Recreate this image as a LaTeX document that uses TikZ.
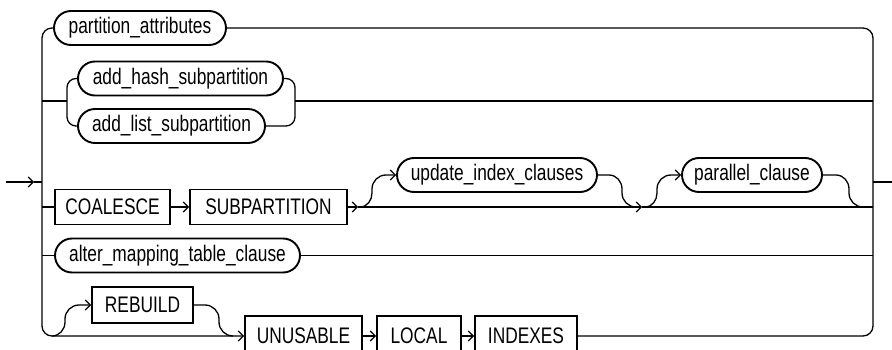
\documentclass[tikz,border=0pt]{standalone}
\usepackage{fontspec}
\setmainfont{Liberation Sans}[FakeStretch=0.77]
\usetikzlibrary{shapes.misc,arrows.meta}
\begin{document}
\begin{tikzpicture}[x=1pt,y=-1pt,
  conn/.style={line width=1.3pt},
  arr/.style={conn,-{Straight Barb[length=5pt,width=10pt,line width=1.2pt]}},
  nt/.style={draw,line width=1.9pt,rounded rectangle,minimum height=34pt,inner sep=0pt,
     font=\fontsize{22.5}{26}\selectfont},
  kw/.style={draw,line width=1.9pt,rectangle,minimum height=35pt,inner sep=0pt,
     font=\fontsize{22.5}{26}\selectfont}]
\useasboundingbox (0,0) rectangle (892,350);
% nodes
\node[nt,minimum width=172pt] (pa) at (140,28) {partition\_attributes};
\node[nt,minimum width=205pt] (hash) at (180.5,78.5) {add\_hash\_subpartition};
\node[nt,minimum width=187pt] (list) at (171.5,126) {add\_list\_subpartition};
\node[kw,minimum width=115pt] (coal) at (112.5,207) {COALESCE};
\node[kw,minimum width=157pt] (subp) at (268.5,207) {SUBPARTITION};
\node[nt,minimum width=200pt] (upd) at (497,175) {update\_index\_clauses};
\node[nt,minimum width=140pt] (par) at (752,175) {parallel\_clause};
\node[nt,minimum width=245pt] (alt) at (177.5,255.5) {alter\_mapping\_table\_clause};
\node[kw,minimum width=101pt,minimum height=36pt] (reb) at (142.5,305) {REBUILD};
\node[kw,minimum width=117pt,minimum height=40pt] (unus) at (303.5,336) {UNUSABLE};
\node[kw,minimum width=84pt,minimum height=40pt] (loc) at (419,336) {LOCAL};
\node[kw,minimum width=102pt,minimum height=40pt] (idx) at (526,336) {INDEXES};
% coordinates
\coordinate (in0) at (6,182);
\coordinate (in1) at (34,182);
\coordinate (lt) at (42,182);
\coordinate (rt) at (873,182);
\coordinate (out) at (892,182);
\coordinate (l2) at (42,101);
\coordinate (s2) at (67,101);
\coordinate (m2) at (295,101);
\coordinate (r2) at (873,101);
\coordinate (l3) at (42,207);
\coordinate (a3) at (358,207);
\coordinate (b3) at (642,207);
\coordinate (r3) at (873,207);
\coordinate (l4) at (42,255.5);
\coordinate (r4) at (873,255.5);
% entry and exit
\draw[arr] (in0) -- (in1);
\draw[conn] (in1) -- (lt);
\draw[conn] (rt) -- (out);
% trunks
\draw[arr,rounded corners=10pt] (pa.west) -- (42,28) -- (42,336) -- (unus.west);
\draw[conn,rounded corners=10pt] (pa.east) -- (873,28) -- (873,336) -- (idx.east);
% row 2
\draw[conn] (l2) -- (s2);
\draw[conn,rounded corners=9pt] (hash.west) -- (67,78.5) -- (67,126) -- (list.west);
\draw[conn,rounded corners=9pt] (hash.east) -- (295,78.5) -- (295,126) -- (list.east);
\draw[conn] (m2) -- (r2);
% row 3
\draw[conn] (l3) -- (coal.west);
\draw[arr] (coal.east) -- (subp.west);
\draw[arr] (subp.east) -- (a3);
\draw[arr] (a3) -- (b3);
\draw[conn] (b3) -- (r3);
\draw[arr] (360,207) to[out=0,in=-90] (372,193) -- (372,189) to[out=90,in=180] (386,175) -- (upd.west);
\draw[conn] (upd.east) -- (609,175) to[out=0,in=90] (622,189) -- (622,193) to[out=-90,in=180] (636,207);
\draw[arr] (645,207) to[out=0,in=-90] (657,193) -- (657,189) to[out=90,in=180] (671,175) -- (par.west);
\draw[conn] (par.east) -- (836,175) to[out=0,in=90] (849,189) -- (849,193) to[out=-90,in=180] (863,207);
% row 4
\draw[conn] (l4) -- (alt.west);
\draw[conn] (alt.east) -- (r4);
% row 5
\draw[arr] (52,336) to[out=0,in=-90] (65,322) -- (65,319) to[out=90,in=180] (79,305) -- (reb.west);
\draw[conn] (reb.east) -- (205,305) to[out=0,in=90] (219,319) -- (219,322) to[out=-90,in=180] (233,336);
\draw[arr] (unus.east) -- (loc.west);
\draw[arr] (loc.east) -- (idx.west);
\end{tikzpicture}
\end{document}
